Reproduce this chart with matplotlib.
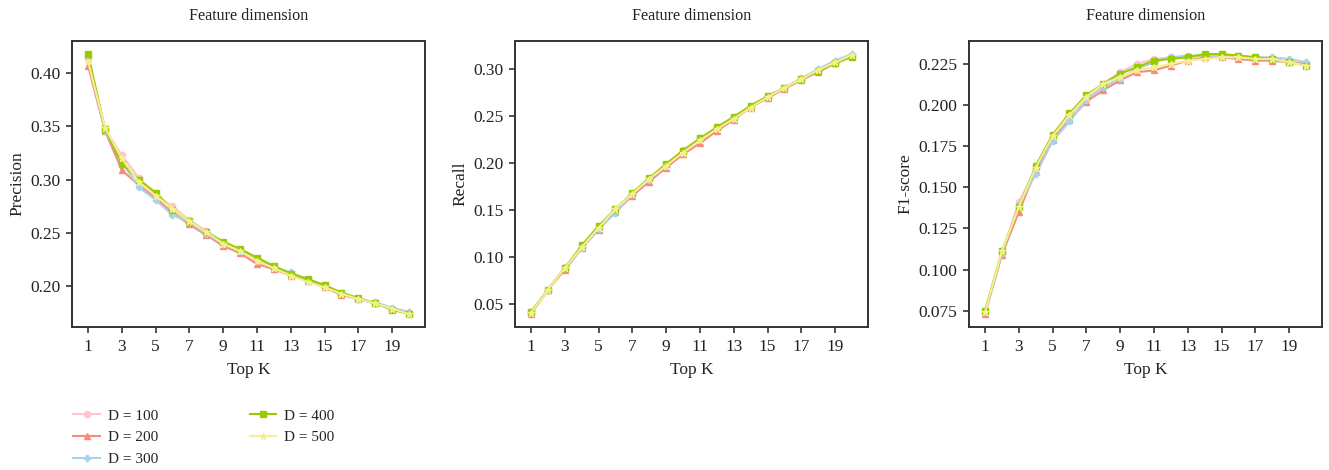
import matplotlib
matplotlib.use("Agg")
import matplotlib.pyplot as plt
import numpy as np

plt.rcParams['font.family'] = ['Liberation Serif', 'DejaVu Serif']

top_k = list(range(1, 21))
dims = ["D = 100", "D = 200", "D = 300", "D = 400", "D = 500"]

precision = {
    "D = 100": [0.413, 0.348, 0.323, 0.302, 0.285, 0.275, 0.262, 0.252, 0.241, 0.233,
                0.224, 0.217, 0.211, 0.205, 0.200, 0.193, 0.188, 0.184, 0.179, 0.175],
    "D = 200": [0.407, 0.346, 0.309, 0.295, 0.283, 0.269, 0.258, 0.248, 0.238, 0.231,
                0.221, 0.216, 0.210, 0.205, 0.199, 0.192, 0.188, 0.184, 0.179, 0.175],
    "D = 300": [0.415, 0.346, 0.317, 0.293, 0.281, 0.267, 0.260, 0.249, 0.240, 0.233,
                0.225, 0.218, 0.213, 0.206, 0.201, 0.194, 0.188, 0.185, 0.180, 0.176],
    "D = 400": [0.418, 0.348, 0.315, 0.300, 0.288, 0.272, 0.261, 0.251, 0.242, 0.235,
                0.227, 0.219, 0.212, 0.207, 0.201, 0.194, 0.189, 0.184, 0.178, 0.174],
    "D = 500": [0.411, 0.349, 0.320, 0.298, 0.285, 0.273, 0.261, 0.251, 0.240, 0.233,
                0.224, 0.217, 0.210, 0.204, 0.199, 0.193, 0.188, 0.184, 0.179, 0.174],
}

recall = {
    "D = 100": [0.040, 0.065, 0.089, 0.110, 0.131, 0.150, 0.167, 0.183, 0.198, 0.214,
                0.226, 0.237, 0.248, 0.260, 0.270, 0.280, 0.289, 0.298, 0.306, 0.314],
    "D = 200": [0.039, 0.065, 0.086, 0.109, 0.129, 0.148, 0.165, 0.180, 0.195, 0.209,
                0.221, 0.234, 0.246, 0.259, 0.269, 0.279, 0.288, 0.297, 0.306, 0.314],
    "D = 300": [0.041, 0.065, 0.088, 0.109, 0.130, 0.147, 0.167, 0.182, 0.197, 0.212,
                0.225, 0.238, 0.249, 0.260, 0.271, 0.280, 0.290, 0.300, 0.309, 0.316],
    "D = 400": [0.041, 0.065, 0.088, 0.112, 0.133, 0.151, 0.168, 0.184, 0.199, 0.213,
                0.226, 0.238, 0.249, 0.261, 0.271, 0.280, 0.289, 0.298, 0.306, 0.313],
    "D = 500": [0.040, 0.065, 0.088, 0.110, 0.131, 0.151, 0.167, 0.183, 0.197, 0.211,
                0.224, 0.236, 0.247, 0.259, 0.270, 0.280, 0.289, 0.299, 0.307, 0.315],
}

f1 = {
    "D = 100": [0.074, 0.110, 0.141, 0.161, 0.181, 0.193, 0.204, 0.213, 0.220, 0.225,
                0.228, 0.229, 0.229, 0.230, 0.230, 0.229, 0.228, 0.228, 0.226, 0.225],
    "D = 200": [0.073, 0.109, 0.135, 0.160, 0.179, 0.191, 0.202, 0.209, 0.215, 0.220,
                0.221, 0.224, 0.227, 0.229, 0.229, 0.228, 0.227, 0.227, 0.226, 0.225],
    "D = 300": [0.074, 0.110, 0.139, 0.158, 0.178, 0.190, 0.203, 0.211, 0.216, 0.222,
                0.226, 0.229, 0.230, 0.230, 0.230, 0.230, 0.229, 0.229, 0.228, 0.226],
    "D = 400": [0.075, 0.111, 0.138, 0.163, 0.182, 0.195, 0.206, 0.213, 0.219, 0.223,
                0.227, 0.228, 0.229, 0.231, 0.231, 0.230, 0.229, 0.228, 0.226, 0.224],
    "D = 500": [0.074, 0.111, 0.138, 0.162, 0.181, 0.194, 0.205, 0.213, 0.217, 0.221,
                0.223, 0.225, 0.227, 0.228, 0.229, 0.229, 0.228, 0.228, 0.226, 0.224],
}

colors = {"D = 100": "#ffc4cf", "D = 200": "#fa8a7e", "D = 300": "#a9d3ea",
          "D = 400": "#99cc00", "D = 500": "#f5ee93"}
markers = {"D = 100": "o", "D = 200": "^", "D = 300": "P", "D = 400": "s", "D = 500": "*"}
zorders = {"D = 100": 2, "D = 200": 3, "D = 300": 4, "D = 400": 5, "D = 500": 6}

fig = plt.figure(figsize=(13.29, 4.70), dpi=100)
lefts = [72 / 1329, 515 / 1329, 969 / 1329]
w = 353 / 1329
bottom = 1 - 327 / 470
h = 286 / 470

panels = [(precision, "Precision", [0.20, 0.25, 0.30, 0.35, 0.40], "%.2f"),
          (recall, "Recall", [0.05, 0.10, 0.15, 0.20, 0.25, 0.30], "%.2f"),
          (f1, "F1-score", [0.075, 0.100, 0.125, 0.150, 0.175, 0.200, 0.225], "%.3f")]

handles = {}
for left, (data, ylabel, yt, fmt) in zip(lefts, panels):
    ax = fig.add_axes([left, bottom, w, h])
    for d in dims:
        ln, = ax.plot(top_k, data[d], color=colors[d], marker=markers[d], markersize=4.5,
                      linewidth=1.5, zorder=zorders[d], label=d)
        handles[d] = ln
    ax.set_xticks(list(range(1, 21, 2)))
    ax.set_yticks(yt)
    ax.set_yticklabels([fmt % v for v in yt])
    ax.tick_params(axis='both', labelsize=12.5, length=4.5, width=1.2, color='#333333',
                   labelcolor='#222222', direction='out', pad=4)
    for s in ax.spines.values():
        s.set_linewidth(1.4)
        s.set_color('#333333')
    ax.set_xlabel("Top K", fontsize=12.5, color='#222222', labelpad=5)
    ax.set_ylabel(ylabel, fontsize=12.5, color='#222222', labelpad=3.5)
    ax.set_title("Feature dimension", fontsize=11.6, color='#222222', pad=15)

leg = fig.legend([handles[d] for d in dims], dims, loc='upper left',
                 bbox_to_anchor=(0.0505, 0.143), ncol=2, frameon=False, fontsize=11,
                 handlelength=1.75, handletextpad=0.5, columnspacing=6.0,
                 labelspacing=0.52, borderaxespad=0)
for t in leg.get_texts():
    t.set_color('#222222')

fig.savefig("out.png", dpi=100)
